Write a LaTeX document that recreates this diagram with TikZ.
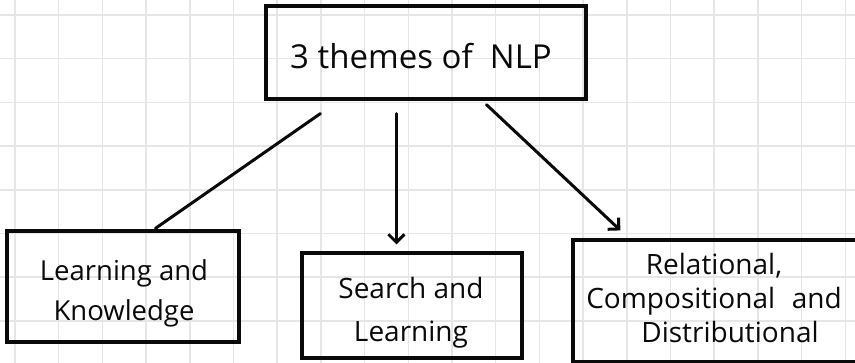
\documentclass[tikz,border=0pt]{standalone}
\usepackage{fontspec}
\setmainfont{Open Sans}
\usetikzlibrary{arrows.meta,calc}

\definecolor{gridgray}{HTML}{E6E6E6}
\definecolor{ink}{HTML}{0A0A0A}

\tikzset{
  paperline/.style={draw=gridgray, line width=1.5pt},
  themebox/.style={draw=ink, line width=3.2pt, rectangle, inner sep=0pt,
    align=center, text=ink},
  boxtext/.style={text=ink, align=center, inner sep=0pt},
  link/.style={draw=ink, line width=3pt, line cap=round},
  linkarrow/.style={link, -{Straight Barb[length=8pt,width=16pt,line width=3pt]}},
}

\begin{document}
\begin{tikzpicture}[x=1pt,y=-1pt]
  \useasboundingbox (0,0) rectangle (855,363);
  \clip (0,0) rectangle (855,363);

  % squared paper
  \foreach \k in {0,...,19} {
    \draw[paperline] (15+43.7*\k,0) -- (15+43.7*\k,363);
  }
  \foreach \k in {0,...,7} {
    \draw[paperline] (0,15+43.7*\k) -- (855,15+43.7*\k);
  }

  % title box
  \node[themebox, minimum width=320pt, minimum height=93pt] (top) at (426,52.5) {};
  \node[boxtext, font=\fontsize{33}{36}\selectfont] (toptext) at (421,56)
        {3 themes of \ NLP};

  % the three themes
  \node[themebox, minimum width=232pt, minimum height=111pt] (learn) at (123,286.5) {};
  \node[boxtext, font=\fontsize{27.5}{40}\selectfont] (learntext) at (124,293)
        {Learning and\\Knowledge};
  \node[themebox, minimum width=220pt, minimum height=105pt] (search) at (412,305.5) {};
  \node[boxtext, font=\fontsize{28}{43}\selectfont] (searchtext) at (411,313)
        {Search and\\Learning};
  \node[themebox, minimum width=310pt, minimum height=122pt] (rel) at (728,301) {};
  \node[boxtext, font=\fontsize{28}{34}\selectfont] (reltext) at (714,298)
        {Relational,\\Compositional\,\, and\\\hspace*{32pt}Distributional};

  % connectors
  \draw[link] ([xshift=56pt,yshift=-13pt]top.south west)
      -- ([xshift=150pt,yshift=1pt]learn.north west);
  \draw[linkarrow] ([xshift=132pt,yshift=-13pt]top.south west)
      -- ([xshift=96pt,yshift=7pt]search.north west);
  \draw[linkarrow] ([xshift=222pt,yshift=-4pt]top.south west)
      -- ([xshift=49pt,yshift=8pt]rel.north west);
\end{tikzpicture}
\end{document}
